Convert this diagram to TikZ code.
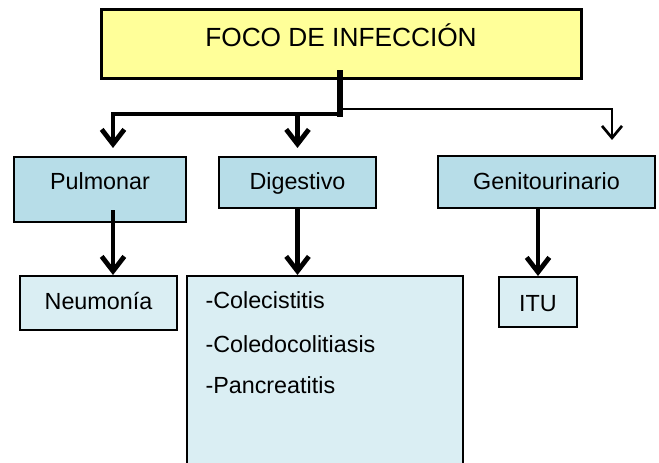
\documentclass[tikz,border=0pt]{standalone}
\usepackage{fontspec}
\setmainfont{Liberation Sans}
\usetikzlibrary{arrows.meta,calc}

\definecolor{focoyellow}{RGB}{255,255,153}
\definecolor{areablue}{RGB}{183,221,232}
\definecolor{diagblue}{RGB}{218,238,243}

\tikzset{every picture/.style={line width=0.75pt}}
\tikzset{
  topbox/.style={draw, line width=2.25pt, fill=focoyellow, inner sep=0pt, font=\fontsize{19.7}{23}\selectfont},
  areabox/.style={draw, line width=1.5pt, fill=areablue, inner sep=0pt, font=\fontsize{17.5}{21}\selectfont},
  diagbox/.style={draw, line width=1.5pt, fill=diagblue, inner sep=0pt, font=\fontsize{17.5}{21}\selectfont},
  bigarrow/.style={line width=3.6pt, -{Straight Barb[length=11pt,width=17pt]}},
  thinarrow/.style={line width=2pt, -{Straight Barb[length=9pt,width=15pt]}},
}

\begin{document}
\begin{tikzpicture}[x=0.75pt,y=0.75pt,yscale=-1,xscale=1]
	\useasboundingbox (0,0) rectangle (659,463);

	%Shape: Rectangle [foco]
	\node[topbox, anchor=north, minimum width=360pt, text height=27.4pt, text depth=24.4pt] (foco) at (341,8) {FOCO DE INFECCIÓN};

	%Shape: Rectangle [areas]
	\node[areabox, anchor=north, minimum width=129pt, text height=24.75pt, text depth=24pt] (pulm) at (100,156) {Pulmonar};
	\node[areabox, anchor=north, minimum width=117.75pt, text height=24.75pt, text depth=13.5pt] (dig) at (297.5,156) {Digestivo};
	\node[areabox, anchor=north, minimum width=162.75pt, text height=25.5pt, text depth=13.5pt] (gen) at (546.5,155) {Genitourinario};

	%Shape: Rectangle [diagnosticos]
	\node[diagbox, anchor=north, minimum width=117.75pt, text height=24.75pt, text depth=15.75pt] (neum) at (98.5,275) {Neumonía};
	\node[diagbox, anchor=north west, minimum width=207pt, minimum height=146.25pt] (lista) at (186,275) {};
	\node[diagbox, anchor=north, minimum width=58.5pt, text height=25.5pt, text depth=12pt] (itu) at (538,276) {ITU};

	% Text Node
	\foreach \enf/\yy [count=\i] in {-Colecistitis/308, -Coledocolitiasis/352, -Pancreatitis/393}
		\node[anchor=base west, inner sep=0pt, font=\fontsize{17.5}{21}\selectfont] (enf\i) at (205,\yy) {\enf};

	%Straight Lines [ramas]
	\coordinate (trunk) at ($(foco.south)+(-1,-7)$);
	\coordinate (split) at (trunk |- 0,114);
	\coordinate (lbranch) at (113,114);
	\coordinate (rbranch) at (612,109);
	\draw[thinarrow, shorten >=11.25pt] (trunk |- rbranch) -- (rbranch) -- (rbranch |- gen.north);
	\draw[line width=4.2pt, line cap=rect] (trunk) -- (split);
	\draw[bigarrow, shorten >=6pt] (split) -- (lbranch) -- (lbranch |- pulm.north);
	\draw[bigarrow, shorten >=6pt] (split -| dig.north) -- (dig.north);

	%Straight Lines [flechas]
	\coordinate (pulmout) at ($(pulm.south)+(13,-13)$);
	\draw[bigarrow] (pulmout) -- (pulmout |- neum.north);
	\draw[bigarrow] (dig.south) -- (dig.south |- lista.north);
	\draw[bigarrow] (gen.south -| itu.north) -- (itu.north);

\end{tikzpicture}
\end{document}
